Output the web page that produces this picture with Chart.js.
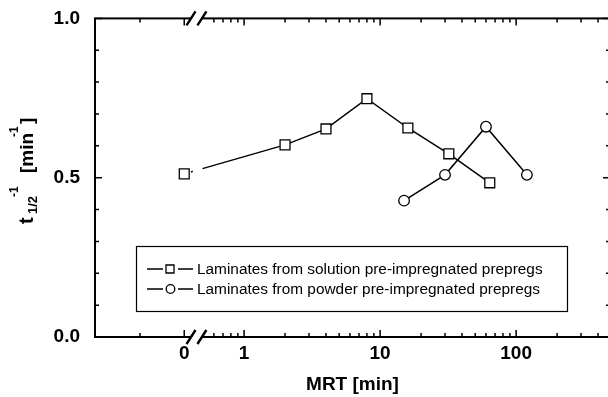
<!DOCTYPE html>
<html>
<head>
<meta charset="utf-8">
<script src="https://cdn.jsdelivr.net/npm/chart.js@4/dist/chart.umd.min.js"></script>
<style>
  html, body { margin: 0; padding: 0; background: #fff; overflow: hidden; }
  canvas { display: block; }
</style>
</head>
<body>
<canvas id="myChart" width="612" height="397"></canvas>
<script>
// MRT in minutes, inverse half time in 1/min
const solutionMRT = [0, 2, 4, 8, 16, 32, 64];
const solutionRate = [0.512, 0.603, 0.653, 0.748, 0.656, 0.575, 0.484];
const powderMRT = [15, 30, 60, 120];
const powderRate = [0.428, 0.509, 0.66, 0.509];

const seriesLabels = [
    'Laminates from solution pre-impregnated prepregs',
    'Laminates from powder pre-impregnated prepregs'
];

const xMajorTicks = [0, 1, 10, 100];
const xMajorLabels = ['0', '1', '10', '100'];
const xMinorTicks = [-1, 0.6, 0.7, 0.8, 0.9, 2, 3, 4, 5, 6, 7, 8, 9,
    20, 30, 40, 50, 60, 70, 80, 90, 200, 300, 400];
const yMajorTicks = [0, 0.5, 1];
const yMinorTicks = [0.1, 0.2, 0.3, 0.4, 0.6, 0.7, 0.8, 0.9];

const FONT = '"Liberation Sans", Arial, Helvetica, sans-serif';

// x axis: linear up to 0, then a break, then log10
const ZERO_POS = -0.44;
const LIN_STEP = 0.325;
const BREAK_AT = [-0.39, -0.31];

function axisPos(v) {
    return v > 0 ? Math.log10(v) : ZERO_POS + v * LIN_STEP;
}

function points(xs, ys) {
    return xs.map((m, i) => ({ x: axisPos(m), y: ys[i] }));
}

const framePlugin = {
    id: 'frame',
    afterDraw(chart) {
        const { ctx, chartArea: a, scales: { x, y } } = chart;
        ctx.save();
        ctx.strokeStyle = '#000';
        ctx.lineWidth = 2;
        ctx.strokeRect(a.left, a.top, a.right - a.left, a.bottom - a.top);

        // inward ticks on all four sides
        ctx.lineWidth = 1.5;
        ctx.beginPath();
        const xTick = (v, len) => {
            const px = x.getPixelForValue(axisPos(v));
            ctx.moveTo(px, a.bottom); ctx.lineTo(px, a.bottom - len);
            ctx.moveTo(px, a.top); ctx.lineTo(px, a.top + len);
        };
        const yTick = (v, len) => {
            const py = y.getPixelForValue(v);
            ctx.moveTo(a.left, py); ctx.lineTo(a.left + len, py);
            ctx.moveTo(a.right, py); ctx.lineTo(a.right - len, py);
        };
        xMajorTicks.forEach(v => xTick(v, 7));
        xMinorTicks.forEach(v => xTick(v, 4));
        yMajorTicks.forEach(v => yTick(v, 7));
        yMinorTicks.forEach(v => yTick(v, 4));
        ctx.stroke();

        // axis break marks
        const b0 = x.getPixelForValue(BREAK_AT[0]);
        const b1 = x.getPixelForValue(BREAK_AT[1]);
        [a.top, a.bottom].forEach(py => {
            ctx.fillStyle = '#fff';
            ctx.fillRect(b0, py - 2, b1 - b0, 4);
            ctx.lineWidth = 2.4;
            ctx.beginPath();
            [b0, b1].forEach(bx => {
                ctx.moveTo(bx - 4.5, py + 7);
                ctx.lineTo(bx + 4.5, py - 7);
            });
            ctx.stroke();
        });

        // legend box
        const lx = 136, ly = 246, lw = 431, lh = 65;
        ctx.lineWidth = 1.2;
        ctx.strokeRect(lx + 0.5, ly + 0.5, lw, lh);
        chart.data.datasets.forEach((ds, i) => {
            const ry = 269 + i * 20;
            ctx.lineWidth = 1.3;
            ctx.beginPath();
            ctx.moveTo(147, ry); ctx.lineTo(163, ry);
            ctx.moveTo(178, ry); ctx.lineTo(193, ry);
            ctx.stroke();
            ctx.beginPath();
            if (ds.pointStyle === 'rect') ctx.rect(166, ry - 4, 8, 8);
            else ctx.arc(170.5, ry, 4.3, 0, Math.PI * 2);
            ctx.stroke();
            ctx.fillStyle = '#000';
            ctx.font = '15.4px ' + FONT;
            ctx.textBaseline = 'middle';
            ctx.fillText(ds.label, 197, ry + 1);
        });

        // y title: t_1/2^-1 [min^-1], offsets run along the text from its start
        const parts = [
            { t: 't', size: 20, at: 4, dy: 0 },
            { t: '1/2', size: 13, at: 14, dy: 4 },
            { t: '-1', size: 12, at: 31, dy: -15 },
            { t: '[min', size: 19, at: 55, dy: 0 },
            { t: '-1', size: 12, at: 91, dy: -15 },
            { t: ']', size: 19, at: 104, dy: 0 }
        ];
        ctx.save();
        ctx.translate(33, 228);
        ctx.rotate(-Math.PI / 2);
        ctx.fillStyle = '#000';
        ctx.textBaseline = 'alphabetic';
        parts.forEach(p => {
            ctx.font = 'bold ' + p.size + 'px ' + FONT;
            ctx.fillText(p.t, p.at, p.dy);
        });
        ctx.restore();
        ctx.restore();
    }
};

new Chart(document.getElementById('myChart'), {
    type: 'line',
    data: {
        datasets: [{
            label: seriesLabels[0],
            data: points(solutionMRT, solutionRate),
            borderColor: '#000',
            borderWidth: 1.5,
            pointStyle: 'rect',
            pointRadius: 7,
            pointBackgroundColor: '#fff',
            pointBorderColor: '#000',
            pointBorderWidth: 1.3,
            segment: {
                // line is interrupted where it crosses the axis break
                borderDash: c => c.p0DataIndex === 0 ? [0, 7, 2, 10, 400] : undefined
            }
        }, {
            label: seriesLabels[1],
            data: points(powderMRT, powderRate),
            borderColor: '#000',
            borderWidth: 1.5,
            pointStyle: 'circle',
            pointRadius: 5.3,
            pointBackgroundColor: '#fff',
            pointBorderColor: '#000',
            pointBorderWidth: 1.3
        }]
    },
    options: {
        responsive: false,
        devicePixelRatio: 1,
        animation: false,
        layout: {
            autoPadding: false,
            padding: { top: 17, right: 2, left: 0, bottom: 0 }
        },
        plugins: {
            legend: { display: false },
            tooltip: { enabled: false }
        },
        scales: {
            x: {
                type: 'linear',
                min: -1.096,
                max: 2.69,
                grid: { display: false },
                border: { display: false },
                afterFit(s) {
                    s.height = 60;
                    s.paddingLeft = 0;
                    s.paddingRight = 0;
                },
                afterBuildTicks(s) {
                    s.ticks = xMajorTicks.map(v => ({ value: axisPos(v) }));
                },
                ticks: {
                    autoSkip: false,
                    maxRotation: 0,
                    padding: -2.5,
                    color: '#000',
                    font: { family: FONT, size: 19, weight: 'bold' },
                    callback: (v, i) => xMajorLabels[i]
                },
                title: {
                    display: true,
                    text: 'MRT [min]',
                    color: '#000',
                    font: { family: FONT, size: 19, weight: 'bold', lineHeight: 1 },
                    padding: { top: 0, bottom: 3 }
                }
            },
            y: {
                min: 0,
                max: 1,
                grid: { display: false },
                border: { display: false },
                afterFit(s) { s.width = 95; },
                afterBuildTicks(s) {
                    s.ticks = yMajorTicks.map(v => ({ value: v }));
                },
                ticks: {
                    padding: 7,
                    color: '#000',
                    font: { family: FONT, size: 19, weight: 'bold' },
                    callback: v => v.toFixed(1)
                }
            }
        }
    },
    plugins: [framePlugin]
});
</script>
</body>
</html>
